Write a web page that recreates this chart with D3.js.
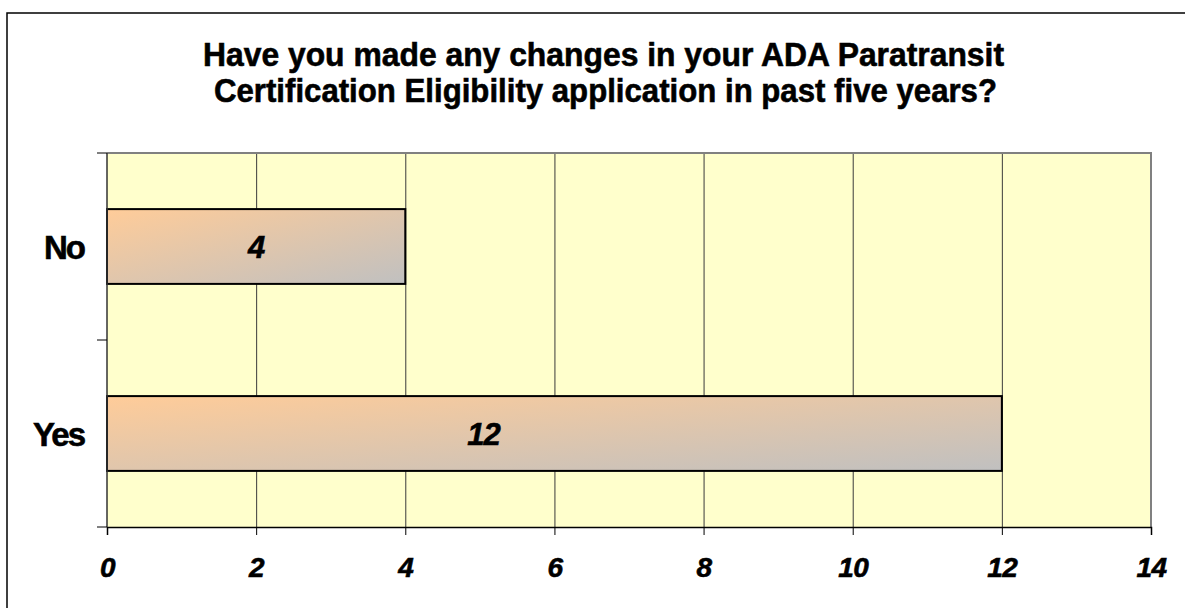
<!DOCTYPE html>
<html>
<head>
<meta charset="utf-8">
<script src="https://cdn.jsdelivr.net/npm/d3@7"></script>
<style>
  html, body { margin: 0; padding: 0; background: #fff; }
  svg { display: block; font-family: "Liberation Sans", Arial, sans-serif; }
</style>
</head>
<body>
<svg id="chart" width="1185" height="608"></svg>
<script>
const titleLines = ["Have you made any changes in your ADA Paratransit",
                    "Certification Eligibility application in past five years?"];
const categories = ["No", "Yes"];
const values = [4, 12];
const labelAt = [2, 5.05];          // where Excel drew the value labels (data units)
const xTicks = [0, 2, 4, 6, 8, 10, 12, 14];

const svg = d3.select("#chart");
const W = 1185, H = 608;
const plot = { left: 107, top: 153, right: 1151, bottom: 527 };

// outer chart border
svg.append("rect").attr("x", 7).attr("y", 13).attr("width", W + 20).attr("height", H + 20)
  .attr("fill", "#fff").attr("stroke", "#000").attr("stroke-width", 1.5);

// gradient
const defs = svg.append("defs");
const grad = defs.append("linearGradient").attr("id", "barGrad")
  .attr("x1", 0).attr("y1", 0).attr("x2", 1).attr("y2", 1);
grad.append("stop").attr("offset", "0%").attr("stop-color", "#FFCC99");
grad.append("stop").attr("offset", "100%").attr("stop-color", "#C0C0C0");

const x = d3.scaleLinear().domain([0, 14]).range([plot.left, plot.right]);
const y = d3.scaleBand().domain(categories).range([plot.top, plot.bottom]).paddingInner(0).paddingOuter(0);
const barH = y.bandwidth() / 2.5;

// plot background
svg.append("rect").attr("x", plot.left).attr("y", plot.top)
  .attr("width", plot.right - plot.left).attr("height", plot.bottom - plot.top)
  .attr("fill", "#FFFFCC");

// gridlines
svg.append("g").selectAll("line").data(xTicks.filter(d => d > 0 && d < 14)).join("line")
  .attr("x1", d => x(d) + 0.5).attr("x2", d => x(d) + 0.5)
  .attr("y1", plot.top).attr("y2", plot.bottom)
  .attr("stroke", "#3a3a3a").attr("stroke-width", 1);

// plot border top & right
svg.append("path")
  .attr("d", `M${plot.left},${plot.top}H${plot.right}V${plot.bottom}`)
  .attr("fill", "none").attr("stroke", "#808080").attr("stroke-width", 2);

// bars
svg.append("g").selectAll("rect").data(values).join("rect")
  .attr("x", x(0))
  .attr("y", (d, i) => y(categories[i]) + (y.bandwidth() - barH) / 2)
  .attr("width", d => x(d) - x(0))
  .attr("height", barH)
  .attr("fill", "url(#barGrad)")
  .attr("stroke", "#000").attr("stroke-width", 2);

// value labels
svg.append("g").selectAll("text").data(values).join("text")
  .attr("x", (d, i) => x(labelAt[i]))
  .attr("y", (d, i) => y(categories[i]) + y.bandwidth() / 2 + 11)
  .attr("text-anchor", "middle")
  .attr("font-size", 31).attr("font-weight", "bold").attr("font-style", "italic")
  .attr("letter-spacing", -1)
  .attr("fill", "#000").attr("stroke", "#000").attr("stroke-width", 0.6)
  .text(d => d);

// x axis
const xAxis = d3.axisBottom(x).tickValues(xTicks).tickSize(8).tickPadding(22).tickFormat(d3.format("d"));
const gx = svg.append("g").attr("transform", `translate(0,${plot.bottom})`).call(xAxis);
gx.select(".domain").attr("stroke", "#000").attr("stroke-width", 1.5);
gx.selectAll(".tick line").attr("stroke", "#000");
gx.selectAll(".tick text")
  .attr("font-size", 28).attr("font-weight", "bold").attr("font-style", "italic")
  .attr("letter-spacing", -0.5)
  .attr("font-family", "'Liberation Sans', Arial, sans-serif")
  .attr("fill", "#000").attr("stroke", "#000").attr("stroke-width", 0.6);

// y axis (category boundary ticks)
svg.append("line").attr("x1", plot.left).attr("x2", plot.left)
  .attr("y1", plot.top).attr("y2", plot.bottom).attr("stroke", "#333").attr("stroke-width", 1.5);
const bounds = [plot.top, ...categories.map(c => y(c) + y.bandwidth())];
svg.append("g").selectAll("line").data(bounds).join("line")
  .attr("x1", plot.left - 10).attr("x2", plot.left)
  .attr("y1", d => d).attr("y2", d => d)
  .attr("stroke", "#000").attr("stroke-width", 1);

svg.append("g").selectAll("text").data(categories).join("text")
  .attr("x", 84)
  .attr("y", d => y(d) + y.bandwidth() / 2 + 12)
  .attr("text-anchor", "end")
  .attr("font-size", 33).attr("font-weight", "bold").attr("letter-spacing", -2)
  .attr("fill", "#000").attr("stroke", "#000").attr("stroke-width", 0.6)
  .text(d => d);

// title
const titleLen = [801, 783];
svg.append("g").selectAll("text").data(titleLines).join("text")
  .attr("x", (d, i) => i === 0 ? 603.5 : 605.5)
  .attr("y", (d, i) => 66 + i * 36)
  .attr("text-anchor", "middle")
  .attr("font-size", 33).attr("font-weight", "bold")
  .attr("textLength", (d, i) => titleLen[i])
  .attr("lengthAdjust", "spacingAndGlyphs")
  .attr("fill", "#000").attr("stroke", "#000").attr("stroke-width", 0.6)
  .text(d => d);
</script>
</body>
</html>
